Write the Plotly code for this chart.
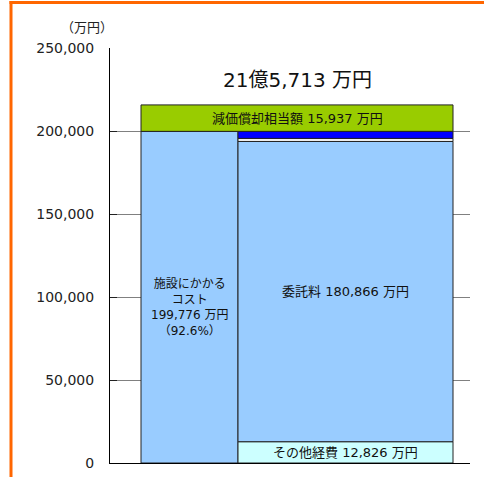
import plotly.graph_objects as go

# ---------------- data ----------------
unit_label = "（万円）"
total_label = "21億5,713 万円"

facility_total = 199776
facility_share = "92.6%"
facility_label_lines = ["施設にかかる", "コスト", "199,776 万円"]

depreciation_value = 15937
depreciation_label = "減価償却相当額 15,937 万円"

breakdown_names = ["その他経費", "委託料", "その他A", "その他B"]
breakdown_values = [12826, 180866, 1850, 4234]
breakdown_labels = ["その他経費 12,826 万円", "委託料 180,866 万円", "", ""]

y_ticks = [0, 50000, 100000, 150000, 200000, 250000]
y_tick_text = ["0", "50,000", "100,000", "150,000", "200,000", "250,000"]

# ---------------- styling / layout ----------------
FONT = "DejaVu Sans, Noto Sans CJK JP, sans-serif"
CJK_FONT = "Noto Sans CJK JP, DejaVu Sans, sans-serif"
breakdown_colors = ["#CCFFFF", "#99CCFF", "#F2F2F2", "#0000FF"]
C_FACILITY = "#99CCFF"
C_DEPREC = "#99CC00"
C_EDGE = "#222222"
ORANGE = "#FF6600"

W, H = 484, 477
ML, MR, MT, MB = 110, 14, 48, 14
PW, PH = W - ML - MR, H - MT - MB
X_RANGE = [0, PW]
LEFT_COL = (31, 128)
RIGHT_COL = (128, 343)


def center(c):
    return (c[0] + c[1]) / 2


def width(c):
    return c[1] - c[0]


def cjk(s):
    return '<span style="font-family:Noto Sans CJK JP">' + s + '</span>'


FULL_COL = (LEFT_COL[0], RIGHT_COL[1])

fig = go.Figure()

# facility cost column
fig.add_trace(go.Bar(
    x=[center(LEFT_COL)], y=[facility_total], base=[0], width=[width(LEFT_COL)],
    marker=dict(color=C_FACILITY, line=dict(color=C_EDGE, width=1)),
    name="施設にかかるコスト", hoverinfo="skip"))

# breakdown column
bases = []
acc = 0
for v in breakdown_values:
    bases.append(acc)
    acc += v
fig.add_trace(go.Bar(
    x=[center(RIGHT_COL)] * len(breakdown_values), y=breakdown_values, base=bases,
    width=[width(RIGHT_COL)] * len(breakdown_values),
    marker=dict(color=breakdown_colors, line=dict(color=C_EDGE, width=1)),
    name="内訳", hoverinfo="skip"))

# depreciation on top spanning both columns
fig.add_trace(go.Bar(
    x=[center(FULL_COL)], y=[depreciation_value], base=[facility_total],
    width=[width(FULL_COL)],
    marker=dict(color=C_DEPREC, line=dict(color=C_EDGE, width=1)),
    name="減価償却相当額", hoverinfo="skip"))

annotations = []
for b, v, lab in zip(bases, breakdown_values, breakdown_labels):
    if lab:
        annotations.append(dict(x=center(RIGHT_COL), y=b + v / 2, text=lab,
                                showarrow=False, xref="x", yref="y",
                                xanchor="center", yanchor="middle",
                                font=dict(family=FONT, size=13, color="#111111")))
annotations.append(dict(x=center(FULL_COL), y=facility_total + depreciation_value / 2,
                        text=depreciation_label, showarrow=False, xref="x", yref="y",
                        xanchor="center", yanchor="middle",
                        font=dict(family=FONT, size=13, color="#111111")))
facility_label = "<br>".join(facility_label_lines + [cjk("（") + facility_share + cjk("）")])
annotations.append(dict(x=center(LEFT_COL), y=facility_total / 2, yshift=-10,
                        text=facility_label, showarrow=False, xref="x", yref="y",
                        xanchor="center", yanchor="middle",
                        font=dict(family=FONT, size=12, color="#111111")))
# overall total
annotations.append(dict(x=center(FULL_COL), y=(H - MB - 80) / PH, xref="x", yref="paper",
                        text=total_label, showarrow=False,
                        xanchor="center", yanchor="middle",
                        font=dict(family=FONT, size=20, color="#111111")))
# unit label
annotations.append(dict(x=(87 - ML) / PW, y=(H - MB - 27) / PH, xref="paper", yref="paper",
                        text=unit_label, showarrow=False,
                        xanchor="center", yanchor="middle",
                        font=dict(family=CJK_FONT, size=13, color="#222222")))

shapes = [
    dict(type="line", xref="paper", yref="paper",
         x0=(11 - ML) / PW, x1=(11 - ML) / PW,
         y0=(H - MB - H) / PH, y1=(H - MB - 1) / PH,
         line=dict(color=ORANGE, width=3)),
    dict(type="line", xref="paper", yref="paper",
         x0=(9.5 - ML) / PW, x1=(W - ML) / PW,
         y0=(H - MB - 2.5) / PH, y1=(H - MB - 2.5) / PH,
         line=dict(color=ORANGE, width=3)),
]

fig.update_layout(
    width=W, height=H, autosize=False, barmode="overlay", showlegend=False,
    margin=dict(l=ML, r=MR, t=MT, b=MB, pad=0, autoexpand=False),
    paper_bgcolor="white", plot_bgcolor="white",
    annotations=annotations, shapes=shapes,
    font=dict(family=FONT, color="#222222"),
)
fig.update_xaxes(range=X_RANGE, showticklabels=False, showgrid=False, zeroline=False,
                 showline=True, linecolor="#000000", linewidth=1, ticks="",
                 automargin=False, fixedrange=True)
fig.update_yaxes(range=[0, 250000], tickvals=y_ticks, ticktext=y_tick_text,
                 ticks="inside", ticklen=7, tickcolor="#222222", tickwidth=1,
                 showgrid=True, gridcolor="#808080", gridwidth=1, zeroline=False,
                 showline=True, linecolor="#000000", linewidth=1,
                 ticklabelstandoff=12, tickfont=dict(family=FONT, size=14, color="#222222"),
                 automargin=False, fixedrange=True)

fig.write_html("out.html", config={"displayModeBar": False},
               post_script="document.body.style.margin='0';document.documentElement.style.overflow='hidden';document.body.style.overflow='hidden';")
